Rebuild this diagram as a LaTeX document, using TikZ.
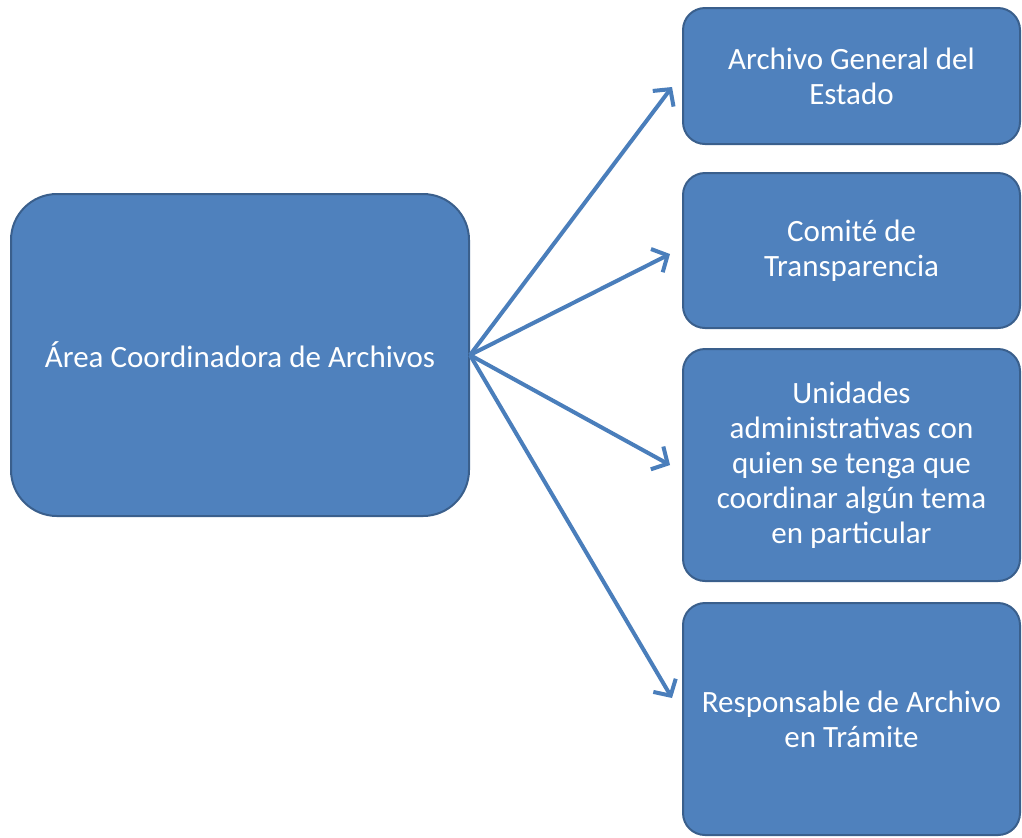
\documentclass[tikz,border=0pt]{standalone}
\usepackage{fontspec}
\setmainfont{Carlito}
\usetikzlibrary{positioning, arrows.meta}
\definecolor{boxfill}{HTML}{4F81BD}
\definecolor{boxline}{HTML}{3A5F8C}
\definecolor{arrowblue}{HTML}{4A7EBB}
\tikzstyle{area} = [rectangle, draw=boxline, fill=boxfill, line width=1pt, text=white, align=center, minimum width=229pt, minimum height=161pt, rounded corners=23pt, font=\fontsize{15.5}{17.5}\selectfont]
\tikzstyle{unit} = [rectangle, draw=boxline, fill=boxfill, line width=1pt, text=white, align=center, minimum width=168.5pt, rounded corners=11pt, font=\fontsize{15.5}{17.5}\selectfont]
\tikzstyle{arrow} = [draw=arrowblue, line width=2pt, -{Straight Barb[length=6pt,width=13pt]}]

\begin{document}
\begin{tikzpicture}[x=1pt, y=1pt]
			\useasboundingbox (0,0) rectangle (511,-418.5);
			% Nodes
			\node (coord) [area] at (120,-177.5) {Área Coordinadora de Archivos};
			\node (general) [unit, minimum height=68pt] at (425.75,-38) {Archivo General del\\Estado};
			\node (comite) [unit, minimum height=77.5pt, below=13.5pt of general] {Comité de\\Transparencia};
			\node (unidades) [unit, minimum height=116pt, below=9.5pt of comite] {Unidades\\administrativas con\\quien se tenga que\\coordinar algún tema\\en particular};
			\node (tramite) [unit, minimum height=116pt, below=10pt of unidades] {Responsable de Archivo\\en Trámite};
			
			% Arrows
			\draw [arrow] (coord.east) -- ([xshift=-5pt, yshift=-5.5pt]general.west);
			\draw [arrow] (coord.east) -- ([xshift=-6pt, yshift=-1.75pt]comite.west);
			\draw [arrow] (coord.east) -- ([xshift=-6pt]unidades.west);
			\draw [arrow] (coord.east) -- ([xshift=-5pt, yshift=10.5pt]tramite.west);
		\end{tikzpicture}
\end{document}
